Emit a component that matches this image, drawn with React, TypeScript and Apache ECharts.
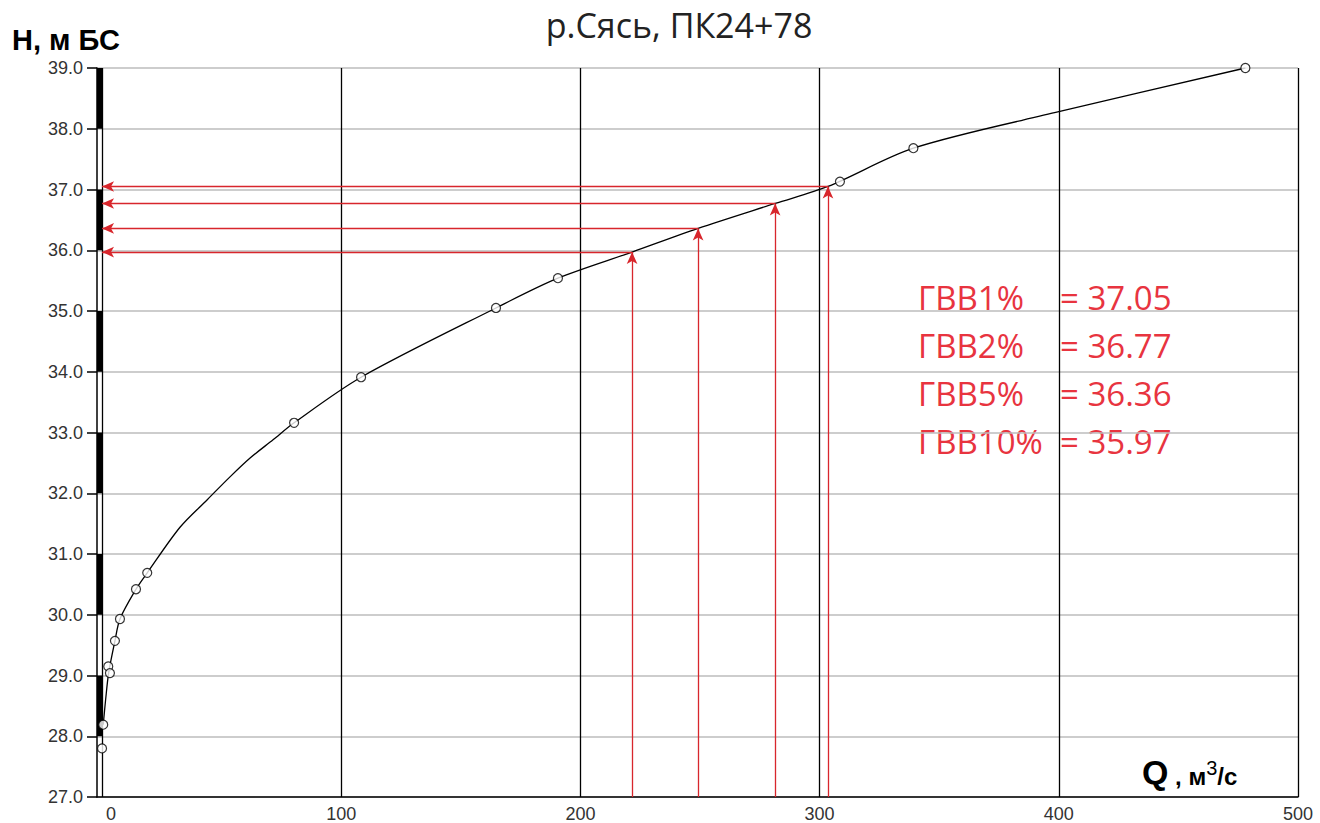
import React, { useEffect, useRef } from "react";
import * as echarts from "echarts";

const titleText = "р.Сясь, ПК24+78";
const yName = "Н, м БС";

// measured points (Q, m3/s ; H, m BS)
const measuredQ = [0, 0.5, 2.6, 3.3, 5.4, 7.5, 14.2, 18.9, 80.3, 108.3, 164.7, 190.6, 308.5, 339.2, 478];
const measuredH = [27.8, 28.19, 29.15, 29.04, 29.57, 29.93, 30.42, 30.69, 33.16, 33.91, 35.05, 35.54, 37.13, 37.68, 39.0];

// curve
const curveQ = [0.5, 1.5, 2.8, 5.4, 7.5, 14.2, 18.9, 32.6, 43.9, 53.5, 61.9, 71.5, 80.3, 108.3, 164.7, 190.6, 221.6, 249.2, 281.4, 303.5, 339.2, 400, 478];
const curveH = [28.19, 28.6, 29.05, 29.57, 29.93, 30.42, 30.69, 31.44, 31.89, 32.27, 32.58, 32.88, 33.16, 33.91, 35.05, 35.54, 35.97, 36.36, 36.77, 37.05, 37.68, 38.28, 39.0];

// design levels
const levelNames = ["ГВВ1%", "ГВВ2%", "ГВВ5%", "ГВВ10%"];
const levelH = [37.05, 36.77, 36.36, 35.97];
const levelQ = [303.5, 281.4, 249.2, 221.6];

const xTicks = [0, 100, 200, 300, 400, 500];
const gaugeBlack = [38, 36, 34, 32, 30, 28];

const X_MIN = -2.1;
const Y_MIN = 27;
const Y_MAX = 39;
const RED_TEXT = "#e8343f";
const RED_LINE = "#d8262c";

export default function App() {
  const ref = useRef<HTMLDivElement>(null);
  useEffect(() => {
    document.body.style.margin = "0";
    const chart = echarts.init(ref.current!, null, { renderer: "svg" });
    const rowY = [297, 345, 393, 441];
    const option: any = {
      animation: false,
      backgroundColor: "#ffffff",
      grid: { left: 97, right: 22, top: 68, bottom: 26, containLabel: false },
      xAxis: {
        type: "value",
        min: X_MIN,
        max: 500,
        axisLine: { show: true, onZero: false, lineStyle: { color: "#000", width: 1.5 } },
        axisTick: { show: false },
        splitLine: { show: false },
        axisLabel: {
          customValues: xTicks,
          color: "#333",
          fontFamily: "Liberation Sans",
          fontSize: 18,
          margin: 8,
          formatter: (v: number) => (v === 0 ? "{z|0}" : String(v)),
          rich: { z: { padding: [0, 0, 0, 18], fontSize: 18, fontFamily: "Liberation Sans", color: "#333" } },
        },
      },
      yAxis: {
        type: "value",
        min: Y_MIN,
        max: Y_MAX,
        interval: 1,
        axisLine: { show: true, onZero: false, lineStyle: { color: "#000", width: 1.5 } },
        axisTick: { show: true, length: 10, lineStyle: { color: "#000", width: 1.5 } },
        splitLine: { show: true, lineStyle: { color: "#bdbdbd", width: 1.5 } },
        axisLabel: {
          color: "#333",
          fontFamily: "Liberation Sans",
          fontSize: 18,
          margin: 14,
          formatter: (v: number) => v.toFixed(1),
        },
      },
      series: [
        {
          type: "line",
          name: "grid",
          data: [],
          silent: true,
          markLine: {
            silent: true,
            symbol: ["none", "none"],
            label: { show: false },
            lineStyle: { color: "#000", width: 1.3, type: "solid" },
            data: xTicks.map((v) => ({ xAxis: v })),
          },
          markArea: {
            silent: true,
            itemStyle: { color: "#000" },
            data: gaugeBlack.map((h) => [{ coord: [X_MIN, h] }, { coord: [0, h + 1] }]),
          },
        },
        {
          type: "line",
          name: "arrows",
          data: [],
          silent: true,
          z: 3,
          markLine: {
            silent: true,
            symbol: ["none", "arrow"],
            symbolSize: [8, 12],
            label: { show: false },
            lineStyle: { color: RED_LINE, width: 1.3, type: "solid" },
            data: levelH.flatMap((h, i) => [
              [{ coord: [levelQ[i], Y_MIN] }, { coord: [levelQ[i], h] }],
              [{ coord: [levelQ[i], h] }, { coord: [0, h] }],
            ]),
          },
        },
        {
          type: "line",
          name: "curve",
          data: curveQ.map((q, i) => [q, curveH[i]]),
          showSymbol: false,
          smooth: 0.3,
          z: 4,
          lineStyle: { color: "#000", width: 1.3 },
        },
        {
          type: "scatter",
          name: "points",
          data: measuredQ.map((q, i) => [q, measuredH[i]]),
          symbol: "circle",
          symbolSize: 9,
          z: 5,
          itemStyle: { color: "#fff", borderColor: "#000", borderWidth: 1.2 },
        },
      ],
      graphic: [
        {
          type: "text",
          x: 679,
          y: 25,
          style: {
            text: titleText,
            fontFamily: "Open Sans",
            fontSize: 34,
            fill: "#222",
            align: "center",
            verticalAlign: "middle",
          },
        },
        {
          type: "text",
          x: 12,
          y: 40,
          style: {
            text: yName,
            fontFamily: "Liberation Sans",
            fontSize: 29,
            fontWeight: "bold",
            fill: "#000",
            align: "left",
            verticalAlign: "middle",
          },
        },
        {
          type: "text",
          x: 1142,
          y: 772,
          style: {
            text: "{q|Q}{s| , м}{sup|3}{s|/с}",
            align: "left",
            verticalAlign: "middle",
            rich: {
              q: { fontFamily: "Liberation Sans", fontSize: 34, fontWeight: "bold", fill: "#000" },
              s: { fontFamily: "Liberation Sans", fontSize: 24, fontWeight: "bold", fill: "#000", padding: [8, 0, 0, 0] },
              sup: { fontFamily: "Liberation Sans", fontSize: 20, fill: "#000", padding: [0, 0, 8, 0] },
            },
          },
        },
        ...levelNames.map((n, i) => ({
          type: "text",
          x: 918,
          y: rowY[i],
          style: {
            text: n,
            fontFamily: "Open Sans",
            fontSize: 33,
            fill: RED_TEXT,
            align: "left",
            verticalAlign: "middle",
          },
        })),
        ...levelH.map((h, i) => ({
          type: "text",
          x: 1060,
          y: rowY[i],
          style: {
            text: "= " + h.toFixed(2),
            fontFamily: "Open Sans",
            fontSize: 33,
            fill: RED_TEXT,
            align: "left",
            verticalAlign: "middle",
          },
        })),
      ],
    };
    chart.setOption(option);
    return () => chart.dispose();
  }, []);
  return (
    <div
      ref={ref}
      style={{ position: "fixed", left: 0, top: 0, width: 1320, height: 823, background: "#fff" }}
    />
  );
}
